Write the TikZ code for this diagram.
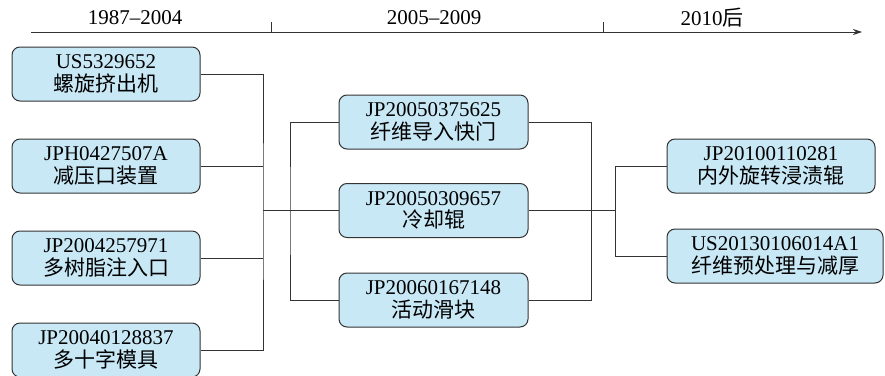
\documentclass[tikz,border=0pt]{standalone}
\usepackage{fontspec}
\setmainfont{Liberation Serif}
\newfontfamily\cjk{Noto Sans CJK SC}
\usetikzlibrary{arrows.meta}
\definecolor{boxblue}{HTML}{C8E8F6}
\definecolor{linegray}{HTML}{333333}
\tikzset{
  pbox/.style={draw=linegray, fill=boxblue, rounded corners=8pt, line width=1pt,
    minimum height=54pt, align=center, inner sep=0pt,
    font=\fontsize{21}{22.5}\selectfont},
  conn/.style={draw=linegray, line width=1pt},
  lbl/.style={font=\fontsize{21}{22.5}\selectfont, inner sep=0pt}
}
\begin{document}
\begin{tikzpicture}[x=1pt,y=-1pt]
\useasboundingbox (0,0) rectangle (885,375);
% axis
\coordinate (a0) at (31,32);
\coordinate (a1) at (862,32);
\coordinate (t1) at (271,32);
\coordinate (t1u) at (271,22);
\coordinate (t2) at (603,32);
\coordinate (t2u) at (603,22);
\draw[conn, -{Stealth[length=9pt,width=6pt]}] (a0) -- (a1);
\draw[conn] (t1) -- (t1u);
\draw[conn] (t2) -- (t2u);
\node[lbl] (p1) at (135,18) {1987–2004};
\node[lbl] (p2) at (434,18) {2005–2009};
\node[lbl] (p3) at (712,18) {2010{\cjk 后}};
% left boxes
\node[pbox, minimum width=188pt] (L1) at (106,74) {US5329652\\{\cjk 螺旋挤出机}};
\node[pbox, minimum width=188pt] (L2) at (106,166) {JPH0427507A\\{\cjk 减压口装置}};
\node[pbox, minimum width=188pt] (L3) at (106,258) {JP2004257971\\{\cjk 多树脂注入口}};
\node[pbox, minimum width=188pt] (L4) at (106,350) {JP20040128837\\{\cjk 多十字模具}};
% middle boxes
\node[pbox, minimum width=189pt] (MA) at (433.5,122) {JP20050375625\\{\cjk 纤维导入快门}};
\node[pbox, minimum width=189pt] (MB) at (433.5,210.5) {JP20050309657\\{\cjk 冷却辊}};
\node[pbox, minimum width=189pt] (MC) at (433.5,300) {JP20060167148\\{\cjk 活动滑块}};
% right boxes
\node[pbox, minimum width=208pt] (R1) at (771,166) {JP20100110281\\{\cjk 内外旋转浸渍辊}};
\node[pbox, minimum width=216pt] (R2) at (775,256) {US20130106014A1\\{\cjk 纤维预处理与减厚}};
% junctions
\coordinate (jL) at (263,210.5);
\coordinate (jM) at (290,210.5);
\coordinate (jR) at (591,210.5);
\coordinate (jR2) at (615,210.5);
% connectors
\draw[conn] (L1.east) -| (jL) |- (L4.east);
\draw[conn] (L2.east) -- (L2.east -| jL);
\draw[conn] (L3.east) -- (L3.east -| jL);
\draw[conn] (jL) -- (MB.west);
\draw[conn] (MA.west) -| (jM) |- (MC.west);
\draw[conn] (MA.east) -| (jR) |- (MC.east);
\draw[conn] (MB.east) -- (jR2);
\draw[conn] (R1.west) -| (jR2) |- (R2.west);
\end{tikzpicture}
\end{document}
